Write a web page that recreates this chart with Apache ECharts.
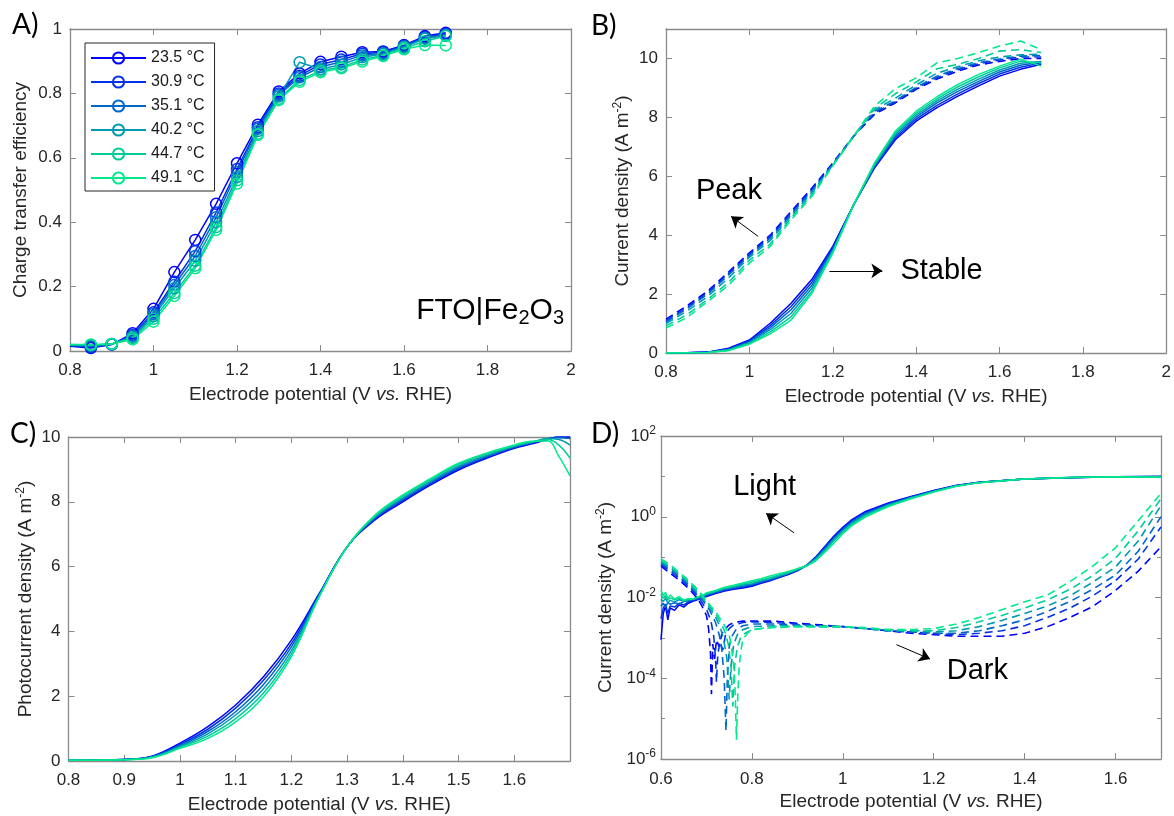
<!DOCTYPE html>
<html><head><meta charset="utf-8">
<script src="https://cdn.jsdelivr.net/npm/echarts@6/dist/echarts.min.js"></script>
<style>html,body{margin:0;padding:0;background:#fff}#c{width:1174px;height:816px}</style>
</head><body><div id="c"></div><script>
// ---------- shared ----------
const temps = ['23.5 °C','30.9 °C','35.1 °C','40.2 °C','44.7 °C','49.1 °C'];
const colors = ['#0000ff','#0033e6','#0066cc','#0099b3','#00cc99','#00ea8c'];

// ---------- Panel A: charge transfer efficiency ----------
const xA = [0.8,0.85,0.9,0.95,1.0,1.05,1.1,1.15,1.2,1.25,1.3,1.35,1.4,1.45,1.5,1.55,1.6,1.65,1.7];
const effA1 = [0.015,0.009,0.020,0.055,0.131,0.245,0.345,0.457,0.583,0.703,0.806,0.862,0.898,0.914,0.928,0.930,0.950,0.978,0.988];
const effA2 = [0.017,0.012,0.021,0.050,0.120,0.215,0.310,0.430,0.565,0.695,0.800,0.855,0.890,0.905,0.923,0.928,0.948,0.975,0.985];
const effA3 = [0.018,0.015,0.021,0.047,0.115,0.205,0.295,0.415,0.555,0.690,0.795,0.850,0.882,0.898,0.918,0.925,0.946,0.972,0.982];
const effA4 = [0.019,0.018,0.022,0.043,0.108,0.195,0.280,0.400,0.540,0.683,0.790,0.897,0.875,0.890,0.912,0.922,0.944,0.970,0.980];
const effA5 = [0.020,0.019,0.022,0.040,0.100,0.180,0.265,0.385,0.530,0.675,0.783,0.842,0.870,0.882,0.905,0.918,0.940,0.962,0.978];
const effA6 = [0.020,0.020,0.022,0.036,0.091,0.171,0.257,0.376,0.520,0.671,0.779,0.836,0.866,0.878,0.899,0.916,0.937,0.950,0.949];
const effA = [effA1,effA2,effA3,effA4,effA5,effA6];

// ---------- Panel B: stable (solid) and peak (dashed) current density ----------
const xB = [0.8,0.85,0.9,0.95,1.0,1.05,1.1,1.15,1.2,1.25,1.3,1.35,1.4,1.45,1.5,1.55,1.6,1.65,1.7];
const stabB1 = [0,0.01,0.03,0.16,0.44,1.01,1.69,2.50,3.62,5.03,6.28,7.24,7.87,8.33,8.72,9.07,9.40,9.63,9.80];
const stabB2 = [0,0.01,0.03,0.14,0.41,0.93,1.58,2.40,3.57,5.03,6.31,7.30,7.94,8.41,8.80,9.15,9.47,9.70,9.85];
const stabB3 = [0,0.01,0.025,0.12,0.38,0.86,1.47,2.30,3.52,5.03,6.35,7.36,8.01,8.49,8.88,9.22,9.54,9.77,9.88];
const stabB4 = [0,0.01,0.02,0.11,0.35,0.79,1.35,2.20,3.47,5.03,6.38,7.42,8.08,8.56,8.96,9.30,9.61,9.84,9.90];
const stabB5 = [0,0.01,0.02,0.09,0.32,0.72,1.23,2.10,3.43,5.03,6.42,7.48,8.14,8.63,9.04,9.38,9.68,9.91,9.85];
const stabB6 = [0,0.01,0.02,0.08,0.30,0.65,1.12,2.03,3.39,5.03,6.45,7.53,8.21,8.70,9.12,9.46,9.74,9.97,9.74];
const peakB1 = [1.15,1.60,2.10,2.75,3.40,4.00,4.80,5.60,6.45,7.36,8.10,8.49,8.95,9.30,9.57,9.78,9.90,10.00,10.00];
const peakB2 = [1.10,1.55,2.05,2.70,3.35,3.95,4.75,5.55,6.42,7.36,8.15,8.52,8.98,9.35,9.62,9.82,9.95,10.05,10.05];
const peakB3 = [1.05,1.50,2.00,2.65,3.30,3.90,4.70,5.50,6.40,7.36,8.20,8.56,9.02,9.40,9.66,9.86,9.98,10.08,10.10];
const peakB4 = [1.00,1.42,1.92,2.55,3.25,3.82,4.65,5.45,6.38,7.36,8.25,8.65,9.10,9.50,9.72,9.92,10.05,10.12,10.15];
const peakB5 = [0.92,1.30,1.82,2.40,3.15,3.70,4.58,5.38,6.36,7.36,8.30,8.80,9.20,9.65,9.80,10.00,10.25,10.30,10.20];
const peakB6 = [0.85,1.20,1.75,2.30,3.05,3.62,4.52,5.32,6.35,7.36,8.38,8.97,9.34,9.85,10.00,10.20,10.42,10.59,10.30];
const stabB = [stabB1,stabB2,stabB3,stabB4,stabB5,stabB6];
const peakB = [peakB1,peakB2,peakB3,peakB4,peakB5,peakB6];

// ---------- Panel C: photocurrent density ----------
const xC = [0.8,0.85,0.9,0.95,1.0,1.05,1.1,1.15,1.2,1.25,1.3,1.35,1.4,1.45,1.5,1.55,1.6,1.63,1.66,1.68,1.7];
const phC1 = [0.02,0.03,0.05,0.15,0.55,1.06,1.73,2.60,3.73,5.17,6.61,7.44,8.00,8.52,8.98,9.34,9.65,9.78,9.92,10.0,10.0];
const phC2 = [0.02,0.03,0.05,0.14,0.51,0.98,1.63,2.49,3.62,5.15,6.61,7.47,8.04,8.56,9.02,9.37,9.67,9.80,9.94,10.0,10.0];
const phC3 = [0.02,0.03,0.045,0.13,0.48,0.91,1.52,2.36,3.52,5.12,6.61,7.50,8.08,8.60,9.06,9.40,9.69,9.82,9.95,9.98,9.95];
const phC4 = [0.02,0.028,0.045,0.12,0.45,0.84,1.42,2.23,3.41,5.10,6.61,7.53,8.12,8.64,9.10,9.43,9.71,9.83,9.95,9.92,9.75];
const phC5 = [0.02,0.027,0.042,0.11,0.42,0.77,1.31,2.10,3.31,5.08,6.61,7.56,8.17,8.68,9.15,9.47,9.73,9.85,9.92,9.75,9.35];
const phC6 = [0.02,0.025,0.04,0.10,0.39,0.70,1.21,1.98,3.22,5.07,6.61,7.59,8.21,8.72,9.19,9.50,9.75,9.87,9.88,9.40,8.80];
const phC = [phC1,phC2,phC3,phC4,phC5,phC6];

// ---------- Panel D: light (solid) and dark (dashed) current density, log scale ----------
const xDL = [0.6,0.605,0.61,0.615,0.62,0.63,0.64,0.65,0.66,0.67,0.68,0.69,0.7,0.72,0.74,0.76,0.78,0.8,0.82,0.84,0.86,0.88,0.9,0.92,0.94,0.96,0.98,1.0,1.02,1.05,1.1,1.15,1.2,1.25,1.3,1.4,1.5,1.6,1.7];
const lightD1 = [0.0009,0.004,0.0062,0.0028,0.0055,0.0048,0.0066,0.0058,0.0072,0.0081,0.0088,0.0097,0.0105,0.0125,0.0145,0.016,0.0172,0.019,0.0225,0.026,0.031,0.037,0.046,0.062,0.10,0.18,0.33,0.55,0.85,1.35,2.2,3.2,4.5,6.0,7.2,8.6,9.3,9.8,10.0];
const lightD2 = [0.003,0.0055,0.0068,0.004,0.0062,0.0058,0.0072,0.0065,0.0078,0.0085,0.009,0.0102,0.011,0.013,0.0152,0.0168,0.018,0.020,0.0235,0.027,0.032,0.038,0.047,0.062,0.097,0.17,0.31,0.51,0.80,1.28,2.1,3.1,4.4,5.9,7.15,8.6,9.3,9.8,9.95];
const lightD3 = [0.006,0.0072,0.0058,0.0075,0.0068,0.0074,0.0069,0.0079,0.0083,0.0088,0.0093,0.0105,0.0115,0.0135,0.0158,0.0175,0.019,0.021,0.0245,0.028,0.033,0.039,0.048,0.062,0.094,0.16,0.29,0.48,0.75,1.2,2.0,3.0,4.3,5.85,7.1,8.6,9.35,9.8,9.9];
const lightD4 = [0.009,0.008,0.0095,0.0072,0.0085,0.0078,0.0088,0.0081,0.0087,0.009,0.0098,0.0108,0.012,0.014,0.0165,0.0182,0.0205,0.022,0.026,0.029,0.034,0.040,0.049,0.061,0.090,0.15,0.27,0.45,0.70,1.13,1.95,2.95,4.25,5.8,7.05,8.6,9.35,9.8,9.8];
const lightD5 = [0.012,0.0095,0.0112,0.0085,0.0098,0.0088,0.0095,0.0083,0.009,0.0092,0.0102,0.0109,0.0125,0.0145,0.0172,0.019,0.0215,0.024,0.027,0.031,0.036,0.042,0.050,0.060,0.085,0.14,0.25,0.42,0.65,1.06,1.87,2.88,4.15,5.75,7.0,8.6,9.4,9.8,9.65];
const lightD6 = [0.015,0.011,0.0135,0.0095,0.0115,0.0092,0.0105,0.0086,0.0095,0.009,0.0105,0.011,0.013,0.015,0.018,0.020,0.023,0.026,0.029,0.034,0.039,0.044,0.052,0.060,0.080,0.13,0.22,0.38,0.60,1.0,1.8,2.8,4.1,5.7,7.0,8.6,9.4,9.8,9.5];
const lightD = [lightD1,lightD2,lightD3,lightD4,lightD5,lightD6];
// dark curves: [potential, |current density|]
const darkD1 = [[0.6,0.06],[0.62,0.04],[0.64,0.027],[0.66,0.017],[0.68,0.0095],[0.69,0.0062],[0.7,0.0036],[0.705,0.0016],[0.709,0.0004],[0.711,0.00004],[0.714,0.0007],[0.718,0.0003],[0.722,0.0009],[0.728,0.0006],[0.734,0.0013],[0.742,0.0017],[0.75,0.0021],[0.76,0.0024],[0.78,0.0026],[0.8,0.0026],[0.85,0.0026],[0.9,0.0023],[0.95,0.0021],[1.0,0.0019],[1.05,0.0017],[1.1,0.0015],[1.15,0.0013],[1.2,0.0012],[1.25,0.0011],[1.3,0.0011],[1.35,0.0011],[1.4,0.0013],[1.45,0.0019],[1.5,0.0032],[1.55,0.006],[1.6,0.015],[1.65,0.045],[1.7,0.18]];
const darkD2 = [[0.6,0.065],[0.62,0.045],[0.64,0.03],[0.66,0.019],[0.68,0.011],[0.7,0.0052],[0.71,0.0026],[0.716,0.0011],[0.72,0.0003],[0.722,0.00008],[0.725,0.0004],[0.73,0.0008],[0.736,0.0005],[0.742,0.0012],[0.75,0.0017],[0.76,0.0021],[0.78,0.0024],[0.8,0.0025],[0.85,0.0024],[0.9,0.0022],[0.95,0.002],[1.0,0.0019],[1.05,0.0017],[1.1,0.0015],[1.15,0.0014],[1.2,0.0013],[1.25,0.0012],[1.3,0.0013],[1.35,0.0015],[1.4,0.002],[1.45,0.0032],[1.5,0.0055],[1.55,0.011],[1.6,0.026],[1.65,0.09],[1.7,0.56]];
const darkD3 = [[0.6,0.07],[0.62,0.05],[0.64,0.033],[0.66,0.021],[0.68,0.012],[0.7,0.0065],[0.71,0.0042],[0.72,0.0024],[0.728,0.0012],[0.734,0.0005],[0.739,0.0001],[0.743,0.000005],[0.746,0.0001],[0.75,0.0006],[0.756,0.0011],[0.765,0.0016],[0.78,0.002],[0.8,0.0022],[0.85,0.0022],[0.9,0.0021],[0.95,0.002],[1.0,0.0019],[1.05,0.0017],[1.1,0.0015],[1.15,0.0014],[1.2,0.0013],[1.25,0.0013],[1.3,0.0015],[1.35,0.002],[1.4,0.0028],[1.45,0.0045],[1.5,0.008],[1.55,0.016],[1.6,0.036],[1.65,0.14],[1.7,1.0]];
const darkD4 = [[0.6,0.075],[0.62,0.055],[0.64,0.036],[0.66,0.023],[0.68,0.013],[0.7,0.0072],[0.71,0.005],[0.72,0.0033],[0.73,0.0019],[0.738,0.0009],[0.745,0.0003],[0.75,0.00003],[0.754,0.0002],[0.76,0.0007],[0.768,0.0012],[0.78,0.0016],[0.8,0.0019],[0.85,0.002],[0.9,0.002],[0.95,0.0019],[1.0,0.0019],[1.05,0.0017],[1.1,0.0015],[1.15,0.0015],[1.2,0.0014],[1.25,0.0015],[1.3,0.0019],[1.35,0.0027],[1.4,0.004],[1.45,0.0062],[1.5,0.011],[1.55,0.024],[1.6,0.057],[1.65,0.25],[1.7,1.9]];
const darkD5 = [[0.6,0.082],[0.62,0.06],[0.64,0.039],[0.66,0.025],[0.68,0.0145],[0.7,0.0078],[0.71,0.0055],[0.72,0.0039],[0.73,0.0025],[0.74,0.0015],[0.748,0.0007],[0.754,0.0002],[0.758,0.00002],[0.762,0.0002],[0.768,0.0006],[0.775,0.001],[0.785,0.0013],[0.8,0.0016],[0.85,0.0019],[0.9,0.0019],[0.95,0.0019],[1.0,0.0019],[1.05,0.0017],[1.1,0.0016],[1.15,0.0015],[1.2,0.0015],[1.25,0.0018],[1.3,0.0025],[1.35,0.0036],[1.4,0.0055],[1.45,0.0087],[1.5,0.016],[1.55,0.035],[1.6,0.093],[1.65,0.45],[1.7,2.8]];
const darkD6 = [[0.6,0.09],[0.62,0.065],[0.64,0.042],[0.66,0.027],[0.68,0.016],[0.7,0.0085],[0.71,0.006],[0.72,0.0045],[0.73,0.003],[0.74,0.002],[0.75,0.0012],[0.755,0.0006],[0.76,0.0002],[0.763,0.00005],[0.766,0.000003],[0.769,0.00004],[0.772,0.0002],[0.776,0.0005],[0.78,0.0009],[0.79,0.0013],[0.8,0.0016],[0.85,0.0018],[0.9,0.0019],[0.95,0.0019],[1.0,0.0019],[1.05,0.0018],[1.1,0.0016],[1.15,0.0016],[1.2,0.0017],[1.25,0.0022],[1.3,0.0032],[1.35,0.005],[1.4,0.0078],[1.45,0.0115],[1.5,0.025],[1.55,0.06],[1.6,0.17],[1.65,0.8],[1.7,3.8]];
const darkD = [darkD1,darkD2,darkD3,darkD4,darkD5,darkD6];

// ---------- styling helpers ----------
const FONT = '"Liberation Sans", Arial, Helvetica, sans-serif';
const AX = '#8a8a8a', TXT = '#262626';
const fmt = v => String(+(+v).toFixed(2));
const nameStyle = {
  fontSize: 19, color: TXT, fontFamily: FONT,
  rich: {
    i: {fontSize: 19, fontStyle: 'italic', color: TXT, fontFamily: FONT},
    s: {fontSize: 12, color: TXT, fontFamily: FONT, padding: [0, 0, 10, 0]}
  }
};
const xName = 'Electrode potential (V {i|vs.} RHE)';

const grids = [
  {left: 70, top: 29, width: 501, height: 322},
  {left: 666, top: 29, width: 501, height: 324},
  {left: 68.5, top: 437, width: 501.5, height: 324},
  {left: 661, top: 436, width: 500, height: 323}
];
const axCfg = [
  {xmin: 0.8, xmax: 2.0, xint: 0.2, xhide: null, ymin: 0, ymax: 1, yint: 0.2, yhide: null, log: false,
   yname: 'Charge transfer efficiency', ymg: 8, yng: 40, xmg: 11, xng: 34},
  {xmin: 0.8, xmax: 2.0, xint: 0.2, xhide: null, ymin: 0, ymax: 11, yint: 2, yhide: 10.5, log: false,
   yname: 'Current density (A m{s|-2})', ymg: 8, yng: 32, xmg: 11, xng: 34},
  {xmin: 0.8, xmax: 1.7, xint: 0.1, xhide: 1.65, ymin: 0, ymax: 10, yint: 2, yhide: null, log: false,
   yname: 'Photocurrent density (A m{s|-2})', ymg: 8, yng: 32, xmg: 11, xng: 34},
  {xmin: 0.6, xmax: 1.7, xint: 0.2, xhide: 1.65, ymin: 1e-6, ymax: 1e2, yint: 2, yhide: null, log: true,
   yname: 'Current density (A m{s|-2})', ymg: 5, yng: 44, xmg: 12, xng: 33}
];

const xAxes = [], yAxes = [];
axCfg.forEach((c, g) => {
  const line = {show: true, onZero: false, lineStyle: {color: AX, width: 1.3}};
  const tick = {show: true, inside: true, length: 6, lineStyle: {color: AX, width: 1}};
  const xBase = {type: 'value', gridIndex: g, min: c.xmin, max: c.xmax, interval: c.xint,
    axisLine: line, axisTick: tick, splitLine: {show: false}};
  xAxes.push(Object.assign({}, xBase, {
    position: 'bottom',
    axisLabel: {margin: c.xmg, fontSize: 17, color: TXT, fontFamily: FONT,
      formatter: v => (c.xhide != null && v > c.xhide) ? '' : fmt(v)},
    name: xName, nameLocation: 'middle', nameGap: c.xng, nameTextStyle: nameStyle
  }));
  xAxes.push(Object.assign({}, xBase, {position: 'top', axisLabel: {show: false}}));
  const yBase = c.log
    ? {type: 'log', logBase: 10, gridIndex: g, min: c.ymin, max: c.ymax, interval: c.yint,
       axisLine: line, axisTick: tick, splitLine: {show: false}}
    : {type: 'value', gridIndex: g, min: c.ymin, max: c.ymax, interval: c.yint,
       axisLine: line, axisTick: tick, splitLine: {show: false}};
  const yLabel = c.log
    ? {margin: c.ymg, fontSize: 17, color: TXT, fontFamily: FONT,
       formatter: v => '10{s|' + Math.round(Math.log10(v)) + '}',
       rich: {s: {fontSize: 12, color: TXT, fontFamily: FONT, padding: [0, 0, 10, 0]}}}
    : {margin: c.ymg, fontSize: 17, color: TXT, fontFamily: FONT,
       formatter: v => (c.yhide != null && v > c.yhide) ? '' : fmt(v)};
  yAxes.push(Object.assign({}, yBase, {
    position: 'left', axisLabel: yLabel,
    name: c.yname, nameLocation: 'middle', nameGap: c.yng, nameTextStyle: nameStyle
  }));
  yAxes.push(Object.assign({}, yBase, {position: 'right', axisLabel: {show: false}}));
});
// extra per-decade minor ticks for the log axis of panel D (left and right)
['left', 'right'].forEach(pos => {
  yAxes.push({type: 'log', logBase: 10, gridIndex: 3, min: 1e-6, max: 1e2, interval: 1, position: pos,
    axisLine: {show: false}, axisLabel: {show: false}, splitLine: {show: false},
    axisTick: {show: true, inside: true, length: 4, lineStyle: {color: AX, width: 1}}});
});

const series = [];
const annText = (txt, coord) => ({name: txt, coord: coord});
const markTexts = list => ({
  silent: true, animation: false, symbol: 'circle', symbolSize: 0,
  itemStyle: {color: 'rgba(0,0,0,0)'},
  label: {show: true, position: 'inside', formatter: '{b}', fontSize: 29, color: '#000', fontFamily: FONT},
  data: list
});
const markArrows = list => ({
  silent: true, animation: false, symbol: ['none', 'arrow'], symbolSize: 11,
  label: {show: false}, lineStyle: {color: '#000', width: 1, type: 'solid'},
  emphasis: {disabled: true},
  data: list.map(p => [{coord: p[0]}, {coord: p[1]}])
});

// Panel A
temps.forEach((t, i) => {
  series.push({
    name: t, type: 'line', xAxisIndex: 0, yAxisIndex: 0,
    data: xA.map((x, j) => j === 0 ? {value: [x, effA[i][j]], symbol: 'none'} : [x, effA[i][j]]),
    symbol: 'circle', symbolSize: 11,
    lineStyle: {color: colors[i], width: 1.5},
    itemStyle: {color: 'rgba(255,255,255,0)', borderColor: colors[i], borderWidth: 1.5},
    emphasis: {disabled: true}, animation: false
  });
});
// Panel B
temps.forEach((t, i) => {
  series.push({
    name: 'B stable ' + t, type: 'line', xAxisIndex: 2, yAxisIndex: 2,
    data: xB.map((x, j) => [x, stabB[i][j]]), showSymbol: false, symbol: 'none',
    lineStyle: {color: colors[i], width: 1.5}, itemStyle: {color: colors[i]},
    emphasis: {disabled: true}, animation: false,
    markLine: i === 0 ? markArrows([[[1.021, 3.96], [0.956, 4.64]], [[1.192, 2.79], [1.319, 2.79]]]) : undefined,
    markPoint: i === 0 ? markTexts([annText('Peak', [0.951, 5.49]), annText('Stable', [1.461, 2.77])]) : undefined
  });
});
temps.forEach((t, i) => {
  series.push({
    name: 'B peak ' + t, type: 'line', xAxisIndex: 2, yAxisIndex: 2,
    data: xB.map((x, j) => [x, peakB[i][j]]), showSymbol: false, symbol: 'none',
    lineStyle: {color: colors[i], width: 1.6, type: [8, 5]}, itemStyle: {color: colors[i]},
    emphasis: {disabled: true}, animation: false
  });
});
// Panel C
temps.forEach((t, i) => {
  series.push({
    name: 'C ' + t, type: 'line', xAxisIndex: 4, yAxisIndex: 4,
    data: xC.map((x, j) => [x, phC[i][j]]), showSymbol: false, symbol: 'none',
    smooth: 0.4,
    lineStyle: {color: colors[i], width: 1.5}, itemStyle: {color: colors[i]},
    emphasis: {disabled: true}, animation: false
  });
});
// Panel D
temps.forEach((t, i) => {
  series.push({
    name: 'D light ' + t, type: 'line', xAxisIndex: 6, yAxisIndex: 6,
    data: xDL.map((x, j) => [x, lightD[i][j]]), showSymbol: false, symbol: 'none',
    lineStyle: {color: colors[i], width: 1.5}, itemStyle: {color: colors[i]},
    emphasis: {disabled: true}, animation: false,
    markLine: i === 0 ? markArrows([[[0.893, 0.398], [0.831, 1.22]], [[1.118, 6.8e-4], [1.192, 3.0e-4]]]) : undefined,
    markPoint: i === 0 ? markTexts([annText('Light', [0.828, 5.47]), annText('Dark', [1.296, 1.48e-4])]) : undefined
  });
});
temps.forEach((t, i) => {
  series.push({
    name: 'D dark ' + t, type: 'line', xAxisIndex: 6, yAxisIndex: 6,
    data: darkD[i], showSymbol: false, symbol: 'none',
    lineStyle: {color: colors[i], width: 1.6, type: [8, 5]}, itemStyle: {color: colors[i]},
    emphasis: {disabled: true}, animation: false
  });
});

const panelFont = '28px Lato, "Open Sans", sans-serif';
const option = {
  backgroundColor: '#fff',
  animation: false,
  grid: grids,
  xAxis: xAxes,
  yAxis: yAxes,
  legend: {
    data: temps, left: 85, top: 43, orient: 'vertical',
    itemWidth: 55, itemHeight: 14, itemGap: 8, padding: [7, 10, 5, 5],
    borderColor: '#262626', borderWidth: 1, backgroundColor: '#fff',
    selectedMode: false,
    textStyle: {fontSize: 16, color: '#1a1a1a', fontFamily: FONT}
  },
  graphic: [
    {type: 'text', left: 12, top: 11, style: {text: 'A)', font: panelFont, fill: '#000'}},
    {type: 'text', left: 591, top: 12, style: {text: 'B)', font: panelFont, fill: '#000'}},
    {type: 'text', left: 10, top: 420, style: {text: 'C)', font: panelFont, fill: '#000'}},
    {type: 'text', left: 591, top: 420, style: {text: 'D)', font: panelFont, fill: '#000'}},
    {type: 'text', right: 1174 - 564, top: 296, z: 10,
     style: {text: 'FTO|Fe{sub|2}O{sub|3}', fill: '#000', fontSize: 30, fontFamily: FONT,
       rich: {sub: {fontSize: 20, fontFamily: FONT, fill: '#000', padding: [14, 0, 0, 0]}}}}
  ],
  series: series
};
const chart = echarts.init(document.getElementById('c'), null, {renderer: 'canvas'});
chart.setOption(option);
</script></body></html>
